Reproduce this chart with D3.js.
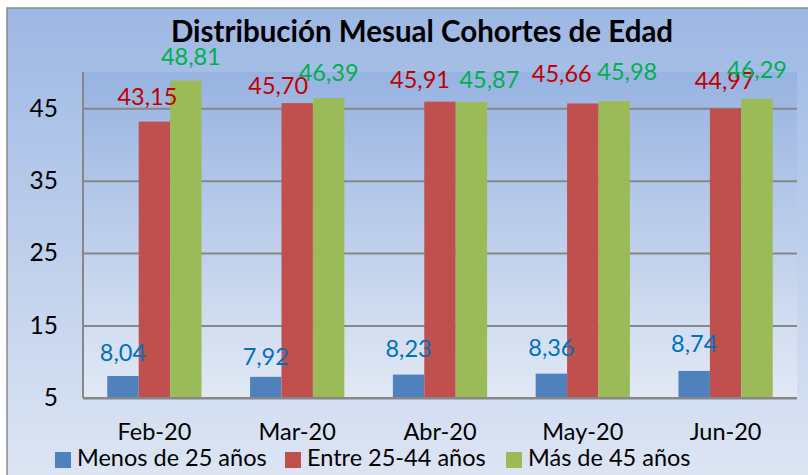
<!DOCTYPE html>
<html><head><meta charset="utf-8">
<script src="https://cdn.jsdelivr.net/npm/d3@7"></script>
<style>html,body{margin:0;padding:0;background:#fff;overflow:hidden}svg{display:block}</style>
</head><body>
<script>
const categories = ["Feb-20","Mar-20","Abr-20","May-20","Jun-20"];
const seriesNames = ["Menos de 25 años","Entre 25-44 años","Más de 45 años"];
const menos25 = [8.04, 7.92, 8.23, 8.36, 8.74];
const entre25_44 = [43.15, 45.70, 45.91, 45.66, 44.97];
const mas45 = [48.81, 46.39, 45.87, 45.98, 46.29];
const yTicks = [5, 15, 25, 35, 45];
const barColors = ["#4f81bd","#c0504d","#9bbb59"];
const labelColors = ["#0070c0","#c00000","#00b050"];
const title = "Distribución Mesual Cohortes de Edad";

// hand-placed label nudges (dx from bar centre, gap above bar top), as in the original
const labelNudgeX = [[0,0,0,0,0],[-7,-19,-20,-21,-1],[5,0,18,13,0]];
const labelGap = [[15,12,18,18,19],[17,9,14,21,19],[16,17,14,21,21]];

const W = 808, H = 475;
const FONT = "Lato, 'Open Sans', sans-serif";
const svg = d3.select("body").append("svg").attr("width", W).attr("height", H);
const defs = svg.append("defs");
const g1 = defs.append("linearGradient").attr("id","bgOuter").attr("x1",0).attr("y1",0).attr("x2",0).attr("y2",1);
g1.append("stop").attr("offset","0%").attr("stop-color","#9db8e4");
g1.append("stop").attr("offset","100%").attr("stop-color","#e0e7f4");
const g2 = defs.append("linearGradient").attr("id","bgPlot").attr("x1",0).attr("y1",0).attr("x2",0).attr("y2",1);
g2.append("stop").attr("offset","0%").attr("stop-color","#97b3e1");
g2.append("stop").attr("offset","100%").attr("stop-color","#e2e9f5");

svg.append("rect").attr("x",7).attr("y",8).attr("width",820).attr("height",490)
  .attr("fill","url(#bgOuter)").attr("stroke","#8a8a8a").attr("stroke-width",1.5);

const m = {left:83, right:797, top:72, bottom:398};
const x = d3.scaleBand().domain(categories).range([m.left, m.right]).paddingInner(0.34).paddingOuter(0.17);
const xs = d3.scaleBand().domain(d3.range(3)).range([0, x.bandwidth()]);
const y = d3.scaleLinear().domain([5, 50]).range([m.bottom, m.top]);

svg.append("rect").attr("x",m.left).attr("y",m.top).attr("width",m.right-m.left).attr("height",m.bottom-m.top)
  .attr("fill","url(#bgPlot)");

// gridlines
const gy = svg.append("g").attr("transform",`translate(${m.left},0)`)
  .call(d3.axisLeft(y).tickValues(yTicks).tickSize(-(m.right-m.left)).tickFormat(""));
gy.select(".domain").remove();
gy.selectAll(".tick line").attr("stroke","#878787").attr("stroke-width",2);

// bars
const series = [menos25, entre25_44, mas45];
series.forEach((vals, si) => {
  svg.append("g").selectAll("rect").data(vals).join("rect")
    .attr("x",(d,i)=>x(categories[i]) + xs(si))
    .attr("width", xs.bandwidth())
    .attr("y", d=>y(d))
    .attr("height", d=>y(5)-y(d))
    .attr("fill", barColors[si]);
});
series.forEach((vals, si) => {
  svg.append("g").selectAll("text").data(vals).join("text")
    .attr("x",(d,i)=>x(categories[i]) + xs(si) + xs.bandwidth()/2 + labelNudgeX[si][i])
    .attr("y", (d,i)=>y(d)-labelGap[si][i])
    .attr("text-anchor","middle")
    .attr("font-family",FONT).attr("font-size",23.5)
    .attr("fill", labelColors[si])
    .text(d=>d.toFixed(2).replace(".",","));
});

// axes lines
svg.append("line").attr("x1",m.left).attr("x2",m.left).attr("y1",m.top).attr("y2",m.bottom)
  .attr("stroke","#878787").attr("stroke-width",2);
svg.append("line").attr("x1",m.left).attr("x2",m.right).attr("y1",m.bottom).attr("y2",m.bottom)
  .attr("stroke","#878787").attr("stroke-width",2);

// y tick labels
const ya = svg.append("g").attr("transform",`translate(${m.left},0)`)
  .call(d3.axisLeft(y).tickValues(yTicks).tickSize(0).tickPadding(25));
ya.select(".domain").remove();
ya.selectAll("text").attr("font-family",FONT).attr("font-size",24.5).attr("fill","#000");

// x labels
const xa = svg.append("g").attr("transform",`translate(0,${m.bottom})`)
  .call(d3.axisBottom(x).tickSize(0));
xa.select(".domain").remove();
xa.selectAll("text").attr("y",42).attr("dy",0).attr("font-family",FONT).attr("font-size",23.5).attr("fill","#000");

// title
svg.append("text").attr("x",422).attr("y",42).attr("text-anchor","middle")
  .attr("font-family",FONT).attr("font-weight","bold").attr("font-size",29.5).attr("fill","#000")
  .text(title);

// legend
const legX = [55, 285, 506];
const lg = svg.append("g");
seriesNames.forEach((nm, i) => {
  lg.append("rect").attr("x",legX[i]).attr("y",452).attr("width",16).attr("height",16).attr("fill",barColors[i]);
  lg.append("text").attr("x",legX[i]+22).attr("y",466).attr("font-family",FONT).attr("font-size",23.5).attr("fill","#000").text(nm);
});
</script>
</body></html>
